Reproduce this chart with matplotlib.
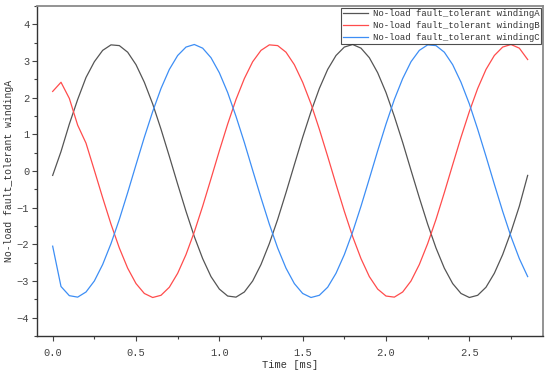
import numpy as np
import matplotlib.pyplot as plt
from matplotlib.ticker import MultipleLocator

# time axis [ms], sampled every 0.05 ms
t = np.round(np.arange(0, 2.851, 0.05), 2)

# values
winding_A = [-0.12, 0.53, 1.28, 1.95, 2.55, 2.98, 3.29, 3.44, 3.42, 3.24,
             2.90, 2.42, 1.83, 1.14, 0.40, -0.36, -1.10, -1.79, -2.39, -2.88,
             -3.22, -3.41, -3.44, -3.30, -3.00, -2.55, -1.98, -1.32, -0.59, 0.17,
             0.92, 1.62, 2.25, 2.77, 3.15, 3.38, 3.45, 3.35, 3.09, 2.68,
             2.14, 1.49, 0.78, 0.02, -0.73, -1.45, -2.10, -2.65, -3.07, -3.34,
             -3.45, -3.39, -3.17, -2.79, -2.28, -1.66, -0.96, -0.12]
winding_B = [2.17, 2.42, 1.98, 1.25, 0.76, 0.02, -0.73, -1.45, -2.10, -2.65,
             -3.07, -3.34, -3.45, -3.39, -3.17, -2.79, -2.28, -1.66, -0.96, -0.21,
             0.55, 1.28, 1.95, 2.52, 2.98, 3.29, 3.44, 3.42, 3.24, 2.90,
             2.42, 1.83, 1.14, 0.40, -0.36, -1.10, -1.79, -2.39, -2.88, -3.22,
             -3.41, -3.44, -3.30, -3.00, -2.55, -1.98, -1.32, -0.59, 0.17, 0.92,
             1.62, 2.25, 2.77, 3.15, 3.38, 3.45, 3.35, 3.04]
winding_C = [-2.05, -3.15, -3.40, -3.44, -3.30, -3.00, -2.55, -1.98, -1.32, -0.59,
             0.17, 0.92, 1.62, 2.25, 2.77, 3.15, 3.38, 3.45, 3.35, 3.09,
             2.68, 2.14, 1.49, 0.78, 0.02, -0.73, -1.45, -2.10, -2.65, -3.07,
             -3.34, -3.45, -3.39, -3.17, -2.79, -2.28, -1.66, -0.96, -0.21, 0.55,
             1.28, 1.95, 2.52, 2.98, 3.29, 3.44, 3.42, 3.24, 2.90, 2.42,
             1.83, 1.14, 0.40, -0.36, -1.10, -1.79, -2.39, -2.88]

labels = ["No-load fault_tolerant windingA",
          "No-load fault_tolerant windingB",
          "No-load fault_tolerant windingC"]
colors = ['#555555', '#ff4c4c', '#3d8ef5']

plt.rcParams['font.family'] = ['Liberation Mono', 'DejaVu Sans Mono']

fig = plt.figure(figsize=(5.5, 3.73), dpi=100)
ax = fig.add_axes([37/550, 37/373, 506/550, 330/373])

for y, lab, col in zip([winding_A, winding_B, winding_C], labels, colors):
    ax.plot(t, y, color=col, lw=0.9, label=lab)

ax.set_xlim(-0.094, 2.942)
ax.set_ylim(-4.5, 4.5)
ax.xaxis.set_major_locator(MultipleLocator(0.5))
ax.xaxis.set_minor_locator(MultipleLocator(0.25))
ax.yaxis.set_major_locator(MultipleLocator(1))
ax.yaxis.set_minor_locator(MultipleLocator(0.5))
ax.tick_params(which='major', direction='out', length=3.5, width=0.8,
               labelsize=7.5, colors='#444444', pad=2)
ax.tick_params(which='minor', direction='out', length=2, width=0.8, colors='#444444')
ax.tick_params(axis='x', pad=5)

for s in ['left', 'bottom']:
    ax.spines[s].set_color('#333333')
    ax.spines[s].set_linewidth(1.0)
for s in ['top', 'right']:
    ax.spines[s].set_color('#8a8a8a')
    ax.spines[s].set_linewidth(1.3)

ax.set_xlabel("Time [ms]", fontsize=7.5, color='#333333')
ax.set_ylabel("No-load fault_tolerant windingA", fontsize=7, color='#333333')
ax.xaxis.set_label_coords(0.5, -0.072)
ax.yaxis.set_label_coords(-0.046, 0.5)

leg = ax.legend(loc='upper right', fontsize=6.5, frameon=True, fancybox=False,
                borderaxespad=0.2, borderpad=0.15, labelspacing=0.35,
                handlelength=2.8, handletextpad=0.6)
leg.get_frame().set_edgecolor('#222222')
leg.get_frame().set_linewidth(0.8)
for tx in leg.get_texts():
    tx.set_color('#333333')

fig.savefig("out.png", dpi=100)
